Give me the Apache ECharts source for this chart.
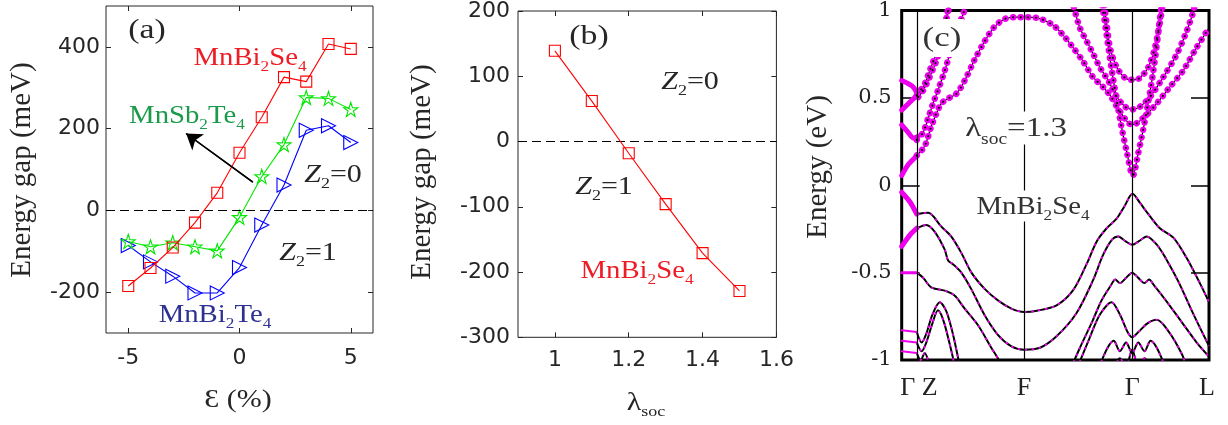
<!DOCTYPE html>
<html>
<head>
<meta charset="utf-8">
<script src="https://cdn.jsdelivr.net/npm/echarts@6/dist/echarts.min.js"></script>
<style>
  html, body { margin: 0; padding: 0; background: #fff; }
  #chart { width: 1228px; height: 425px; }
</style>
</head>
<body>
<div id="chart"></div>
<script>
// ---------- (a) gap versus strain ----------
const strain   = [-5, -4, -3, -2, -1, 0, 1, 2, 3, 4, 5];
const gapBiSe  = [-185, -141, -91, -30, 43, 141, 228, 326, 315, 407, 395];
const gapSbTe  = [-76, -89, -79, -89, -99, -17, 83, 161, 276, 274, 247];
const gapBiTe  = [-86, -126, -161, -202, -202, -140, -36, 62, 196, 207, 166];
const strainTicks = [-5, 0, 5];
const gapTicksA   = [-200, 0, 200, 400];
const arrowFrom = [0.6, 69];
const arrowTo   = [-2.4, 188];

// ---------- (b) gap versus SOC strength ----------
const lambdaSoc = [1.0, 1.1, 1.2, 1.3, 1.4, 1.5];
const gapSoc    = [139, 62, -18, -96, -171, -229];
const socTicks  = [1, 1.2, 1.4, 1.6];

// ---------- (c) band structure, path Γ-Z-F-Γ-L (k along path, E in eV) ----------
const kTicks = [0, 0.049, 0.398, 0.750, 1.0];
const kNames = ['Γ', 'Z', 'F', 'Γ', 'L'];

// conduction bands (projected weight drawn as dots)
const cbArch = [[0.049,0.17],[0.075,0.224],[0.096,0.336],[0.113,0.411],[0.129,0.468],[0.151,0.496],[0.178,0.524],[0.205,0.599],[0.238,0.721],[0.270,0.824],[0.303,0.909],[0.336,0.952],[0.37,0.962],[0.40,0.962],[0.44,0.958],[0.491,0.918],[0.524,0.862],[0.557,0.789],[0.590,0.71],[0.622,0.62],[0.655,0.563],[0.68,0.51],[0.70,0.45],[0.733,0.366],[0.750,0.345],[0.785,0.383],[0.830,0.468],[0.873,0.563],[0.915,0.654],[0.960,0.789],[1.0,0.90]];
const cbUp1  = [[0.049,0.26],[0.069,0.30],[0.086,0.383],[0.102,0.468],[0.118,0.543],[0.140,0.655],[0.156,0.749],[0.178,0.88],[0.199,0.975],[0.21,1.03]];
const cbUp2  = [[0.049,0.514],[0.075,0.58],[0.091,0.655],[0.107,0.73],[0.123,0.824],[0.140,0.918],[0.152,1.0],[0.156,1.03]];
const cbUp3  = [[0.054,0.505],[0.069,0.54],[0.086,0.599],[0.102,0.665],[0.113,0.712],[0.128,0.80],[0.140,0.90],[0.150,1.0],[0.153,1.03]];
const cbMid  = [[0.56,1.02],[0.564,0.993],[0.580,0.90],[0.602,0.824],[0.624,0.749],[0.645,0.674],[0.672,0.599],[0.700,0.505],[0.727,0.449],[0.750,0.434],[0.775,0.449],[0.808,0.505],[0.851,0.618],[0.895,0.749],[0.927,0.88],[0.949,0.993],[0.952,1.02]];
const cbV    = [[0.66,1.03],[0.662,0.993],[0.678,0.787],[0.700,0.674],[0.727,0.614],[0.750,0.603],[0.775,0.614],[0.802,0.674],[0.824,0.787],[0.846,0.993],[0.848,1.03]];
const cbCone = [[0.652,1.03],[0.656,0.993],[0.684,0.655],[0.711,0.374],[0.733,0.186],[0.752,0.055],[0.770,0.186],[0.792,0.374],[0.819,0.655],[0.838,0.918],[0.843,0.993],[0.846,1.03]];

// strongly weighted pieces between Γ and Z
const gzA = [[0,0.599],[0.038,0.561],[0.054,0.505]];
const gzB = [[0,0.43],[0.033,0.486],[0.049,0.514]];
const gzC = [[0,0.345],[0.022,0.30],[0.038,0.27],[0.054,0.28]];
const gzD = [[0,0.055],[0.022,0.12],[0.049,0.167]];
const gzE = [[0,-0.04],[0.027,-0.096],[0.049,-0.165]];
const gzF = [[0,-0.35],[0.027,-0.284],[0.049,-0.246]];
const gzG = [[0,-0.50],[0.049,-0.50]];
const gzH = [[0,-0.83],[0.049,-0.84]];
const gzI = [[0,-0.89],[0.049,-0.90]];
const gzJ = [[0,-0.95],[0.049,-0.96]];

// valence bands
const vbA  = [[0.049,-0.165],[0.086,-0.158],[0.129,-0.237],[0.161,-0.293],[0.194,-0.387],[0.227,-0.50],[0.270,-0.593],[0.313,-0.659],[0.357,-0.706],[0.398,-0.725],[0.44,-0.718],[0.504,-0.687],[0.558,-0.60],[0.602,-0.45],[0.635,-0.32],[0.667,-0.246],[0.700,-0.19],[0.725,-0.12],[0.751,-0.049],[0.775,-0.10],[0.797,-0.152],[0.840,-0.246],[0.884,-0.30],[0.927,-0.415],[0.971,-0.563],[1.0,-0.669]];
const vbB  = [[0.049,-0.246],[0.080,-0.227],[0.107,-0.265],[0.140,-0.368],[0.151,-0.43],[0.167,-0.452],[0.194,-0.50],[0.226,-0.593],[0.270,-0.744],[0.313,-0.856],[0.357,-0.922],[0.398,-0.941],[0.45,-0.93],[0.503,-0.866],[0.568,-0.734],[0.622,-0.546],[0.655,-0.40],[0.685,-0.31],[0.705,-0.293],[0.728,-0.32],[0.750,-0.34],[0.772,-0.32],[0.797,-0.293],[0.830,-0.34],[0.86,-0.42],[0.90,-0.55],[0.95,-0.74],[1.0,-0.92]];
const vbC  = [[0.049,-0.50],[0.070,-0.53],[0.096,-0.584],[0.140,-0.603],[0.172,-0.631],[0.205,-0.706],[0.248,-0.80],[0.292,-0.931],[0.313,-0.99],[0.33,-1.05]];
const vbC2 = [[0.55,-1.05],[0.58,-0.93],[0.62,-0.78],[0.65,-0.66],[0.68,-0.575],[0.695,-0.54],[0.71,-0.56],[0.73,-0.53],[0.75,-0.50],[0.77,-0.53],[0.79,-0.56],[0.805,-0.54],[0.82,-0.57],[0.86,-0.66],[0.91,-0.78],[0.96,-0.90],[1.0,-0.98]];
const vbD  = [[0.57,-1.05],[0.61,-0.88],[0.645,-0.74],[0.683,-0.669],[0.71,-0.74],[0.735,-0.84],[0.75,-0.87],[0.77,-0.84],[0.80,-0.79],[0.83,-0.77],[0.87,-0.84],[0.91,-0.96],[0.93,-1.05]];
const vbE  = [[0.64,-1.05],[0.67,-0.93],[0.69,-0.89],[0.71,-0.95],[0.73,-0.90],[0.75,-0.96],[0.77,-0.90],[0.79,-0.95],[0.81,-0.89],[0.83,-0.93],[0.86,-1.05]];
const vbF  = [[0.69,-1.05],[0.71,-0.99],[0.73,-1.04],[0.75,-0.94],[0.77,-1.04],[0.79,-0.99],[0.81,-1.05]];
const vbZ1 = [[0.049,-0.84],[0.065,-0.90],[0.08,-0.85],[0.10,-0.74],[0.124,-0.67],[0.145,-0.72],[0.165,-0.84],[0.185,-1.0],[0.19,-1.05]];
const vbZ2 = [[0.049,-0.90],[0.065,-0.95],[0.08,-0.90],[0.10,-0.79],[0.118,-0.716],[0.135,-0.77],[0.155,-0.90],[0.175,-1.05]];
const vbZ3 = [[0.049,-0.96],[0.062,-1.0],[0.075,-0.96],[0.09,-1.02],[0.1,-1.05]];

// ---------- styling ----------
const SANS  = "'DejaVu Sans', sans-serif";
const SERIF = "'Liberation Serif', 'DejaVu Serif', serif";
const WIDE_SERIF = "'DejaVu Serif', serif";
const AX  = '#262626';
const MAG = '#ee00ee';
const RED = '#ff0000', GREEN = '#00e600', BLUE = '#0000ff';

const STAR = 'path://M12,1 L14.6,8.9 L23,8.9 L16.2,13.8 L18.8,21.8 L12,16.9 L5.2,21.8 L7.8,13.8 L1,8.9 L9.4,8.9 Z';
const TRI_RIGHT = 'path://M0,0 L13,7 L0,14 Z';

const pairs = (xs, ys) => xs.map((x, i) => [x, ys[i]]);

function richSet(color, size) {
  const sub = Math.round(size * 0.6);
  return {
    m: { fill: color, fontFamily: SERIF, fontSize: size, lineHeight: size + 2, verticalAlign: 'top' },
    i: { fill: color, fontFamily: SERIF, fontSize: size, fontStyle: 'italic', lineHeight: size + 2, verticalAlign: 'top' },
    s: { fill: color, fontFamily: SERIF, fontSize: sub, lineHeight: sub, padding: [Math.round(size * 0.58), 0, 0, 0], verticalAlign: 'top' }
  };
}
function label(x, y, text, color, size, sx, extraStyle) {
  return {
    type: 'text', x: x, y: y, z: 100, scaleX: sx || 1.2, silent: true,
    style: Object.assign({
      text: text, rich: richSet(color, size), fill: color,
      fontFamily: SERIF, fontSize: size, align: 'center', verticalAlign: 'middle'
    }, extraStyle || {})
  };
}
function vlabel(x, y, text, size) {
  return {
    type: 'text', x: x, y: y, z: 100, rotation: Math.PI / 2, silent: true,
    style: { text: text, fill: AX, fontFamily: SERIF, fontSize: size, align: 'center', verticalAlign: 'middle' }
  };
}

// plain box axes for panels (a) and (b)
function boxX(grid, min, max, ticks, pos, showLabel, margin) {
  return {
    type: 'value', gridIndex: grid, min: min, max: max, position: pos,
    axisLine: { show: false, onZero: false },
    axisTick: { show: true, inside: true, length: 5, customValues: ticks, lineStyle: { color: AX, width: 1 } },
    axisLabel: { show: showLabel, customValues: ticks, fontFamily: SANS, fontSize: 22, color: AX, margin: margin },
    splitLine: { show: false }
  };
}
function boxY(grid, min, max, ticks, pos, showLabel, margin, interval) {
  const ax = {
    type: 'value', gridIndex: grid, min: min, max: max, position: pos,
    axisLine: { show: false, onZero: false },
    axisTick: { show: true, inside: true, length: 5, lineStyle: { color: AX, width: 1 } },
    axisLabel: { show: showLabel, fontFamily: SANS, fontSize: 22, color: AX, margin: margin },
    splitLine: { show: false }
  };
  if (ticks) { ax.axisTick.customValues = ticks; ax.axisLabel.customValues = ticks; }
  if (interval) ax.interval = interval;
  return ax;
}

const zeroLine = {
  silent: true, symbol: ['none', 'none'], label: { show: false },
  lineStyle: { color: '#000', type: [9, 5], width: 1.2 },
  data: [{ yAxis: 0 }]
};

// band-structure layers
const bandBase = { type: 'line', xAxisIndex: 4, yAxisIndex: 4, symbol: 'none', smooth: 0.3, silent: true };
function conduction(data) {
  return [
    Object.assign({}, bandBase, { data: data, z: 3, lineStyle: { color: '#000', width: 1.2 } }),
    Object.assign({}, bandBase, { data: data, z: 4, lineStyle: { color: MAG, width: 6.5, type: [0.1, 7.5], cap: 'round' } }),
    Object.assign({}, bandBase, { data: data, z: 5, lineStyle: { color: '#000', width: 2, type: [0.1, 7.5], cap: 'round' } })
  ];
}
function valence(data) {
  return [
    Object.assign({}, bandBase, { data: data, z: 3, lineStyle: { color: '#000', width: 2 } }),
    Object.assign({}, bandBase, { data: data, z: 4, lineStyle: { color: MAG, width: 1.8, type: [2.5, 4.5] } })
  ];
}
function heavy(data, w) {
  return [Object.assign({}, bandBase, { data: data, z: 4, lineStyle: { color: MAG, width: w, cap: 'round' } })];
}

const bandSeries = [].concat(
  conduction(cbArch), conduction(cbUp1), conduction(cbUp2), conduction(cbUp3),
  conduction(cbMid), conduction(cbV), conduction(cbCone),
  valence(vbA), valence(vbB), valence(vbC), valence(vbC2), valence(vbD),
  valence(vbE), valence(vbF), valence(vbZ1), valence(vbZ2), valence(vbZ3),
  heavy(gzA, 5), heavy(gzB, 5), heavy(gzC, 5), heavy(gzD, 5), heavy(gzE, 5), heavy(gzF, 5),
  heavy(gzG, 3), heavy(gzH, 2), heavy(gzI, 2), heavy(gzJ, 2)
);
// high-symmetry verticals
bandSeries[0].markLine = {
  silent: true, symbol: ['none', 'none'], label: { show: false },
  lineStyle: { color: '#000', type: 'solid', width: 1.2 },
  data: kTicks.slice(1, 4).map(k => ({ xAxis: k }))
};

const kRich = {
  p0: { fontFamily: SERIF, fontSize: 26, color: '#222', padding: [0, 0, 0, 12] },
  p1: { fontFamily: SERIF, fontSize: 26, color: '#222', padding: [0, 0, 0, 26] },
  p2: { fontFamily: SERIF, fontSize: 26, color: '#222' },
  p3: { fontFamily: SERIF, fontSize: 26, color: '#222' },
  p4: { fontFamily: SERIF, fontSize: 26, color: '#222', padding: [0, 4, 0, 0] }
};

const option = {
  animation: false,
  backgroundColor: '#fff',
  grid: [
    { left: 106, top: 6, width: 267, height: 327, show: true, borderColor: AX, borderWidth: 1, backgroundColor: 'transparent' },
    { left: 518, top: 10.6, width: 258.4, height: 326.7, show: true, borderColor: AX, borderWidth: 1, backgroundColor: 'transparent' },
    { left: 901.7, top: 5, width: 307.3, height: 355, show: true, borderColor: '#000', borderWidth: 3, backgroundColor: 'transparent' }
  ],
  xAxis: [
    boxX(0, -6, 6, strainTicks, 'bottom', true, 14),
    boxX(0, -6, 6, strainTicks, 'top', false, 8),
    boxX(1, 0.9, 1.6, socTicks, 'bottom', true, 12),
    boxX(1, 0.9, 1.6, socTicks, 'top', false, 8),
    {
      type: 'value', gridIndex: 2, min: 0, max: 1, position: 'bottom',
      axisLine: { show: false, onZero: false }, axisTick: { show: false }, splitLine: { show: false },
      axisLabel: {
        customValues: kTicks, showMinLabel: true, showMaxLabel: true, margin: 15,
        fontFamily: SERIF, fontSize: 26, color: '#222', rich: kRich,
        formatter: function (v) {
          let i = 0;
          kTicks.forEach((k, j) => { if (Math.abs(k - v) < 1e-6) i = j; });
          return '{p' + i + '|' + kNames[i] + '}';
        }
      }
    }
  ],
  yAxis: [
    boxY(0, -300, 500, gapTicksA, 'left', true, 6),
    boxY(0, -300, 500, gapTicksA, 'right', false, 8),
    boxY(1, -300, 200, null, 'left', true, 8, 100),
    boxY(1, -300, 200, null, 'right', false, 8, 100),
    {
      type: 'value', gridIndex: 2, min: -1, max: 1, interval: 0.5, position: 'left',
      axisLine: { show: false, onZero: false }, splitLine: { show: false },
      axisTick: { show: true, inside: true, length: 18, lineStyle: { color: '#000', width: 1.5 } },
      axisLabel: { fontFamily: WIDE_SERIF, fontSize: 21, color: '#222', margin: 10 }
    },
    {
      type: 'value', gridIndex: 2, min: -1, max: 1, interval: 0.5, position: 'right',
      axisLine: { show: false, onZero: false }, splitLine: { show: false },
      axisTick: { show: true, inside: true, length: 18, lineStyle: { color: '#000', width: 1.5 } },
      axisLabel: { show: false }
    }
  ],
  series: [
    {
      type: 'line', xAxisIndex: 0, yAxisIndex: 0, data: pairs(strain, gapBiTe), silent: true, z: 3,
      symbol: TRI_RIGHT, symbolSize: [14, 14],
      itemStyle: { color: 'rgba(0,0,0,0)', borderColor: BLUE, borderWidth: 1.1 },
      lineStyle: { color: BLUE, width: 1.1 },
      markLine: zeroLine
    },
    {
      type: 'line', xAxisIndex: 0, yAxisIndex: 0, data: pairs(strain, gapSbTe), silent: true, z: 4,
      symbol: STAR, symbolSize: 14,
      itemStyle: { color: 'rgba(0,0,0,0)', borderColor: GREEN, borderWidth: 1.1 },
      lineStyle: { color: GREEN, width: 1.1 }
    },
    {
      type: 'line', xAxisIndex: 0, yAxisIndex: 0, data: pairs(strain, gapBiSe), silent: true, z: 5,
      symbol: 'rect', symbolSize: 11,
      itemStyle: { color: 'rgba(0,0,0,0)', borderColor: RED, borderWidth: 1.1 },
      lineStyle: { color: RED, width: 1.1 }
    },
    // pointer arrow in (a): its own black series so the head inherits black
    {
      type: 'line', xAxisIndex: 0, yAxisIndex: 0, data: [arrowFrom, arrowTo], silent: true, z: 6,
      symbol: 'none', color: '#000',
      itemStyle: { color: '#000' },
      lineStyle: { color: '#000', width: 1.4 },
      markLine: {
        silent: true, symbol: ['none', 'arrow'], symbolSize: 15, label: { show: false },
        itemStyle: { color: '#000' },
        lineStyle: { color: '#000', type: 'solid', width: 1.4 },
        data: [[{ coord: arrowFrom }, { coord: arrowTo }]]
      }
    },
    {
      type: 'line', xAxisIndex: 2, yAxisIndex: 2, data: pairs(lambdaSoc, gapSoc), silent: true, z: 5,
      symbol: 'rect', symbolSize: 11,
      itemStyle: { color: 'rgba(0,0,0,0)', borderColor: RED, borderWidth: 1.1 },
      lineStyle: { color: RED, width: 1.1 },
      markLine: zeroLine
    }
  ].concat(bandSeries),
  graphic: { elements: [
    // (a)
    label(147, 32, '{m|(a)}', AX, 27, 1.25),
    label(250, 59, '{m|MnBi}{s|2}{m|Se}{s|4}', '#ee1c24', 25, 1.15),
    label(187, 117, '{m|MnSb}{s|2}{m|Te}{s|4}', '#1a9a4a', 25, 1.15),
    label(333, 176, '{i|Z}{s|2}{m|=0}', AX, 25, 1.2),
    label(308, 254, '{i|Z}{s|2}{m|=1}', AX, 25, 1.2),
    label(215, 316, '{m|MnBi}{s|2}{m|Te}{s|4}', '#2e3192', 25, 1.15),
    label(238, 401, '{m|Ɛ (%)}', AX, 25, 1.2),
    vlabel(22.5, 170, 'Energy gap (meV)', 29),
    // (b)
    label(589, 38, '{m|(b)}', AX, 27, 1.25),
    label(690, 83, '{i|Z}{s|2}{m|=0}', AX, 25, 1.2),
    label(604, 188, '{i|Z}{s|2}{m|=1}', AX, 25, 1.2),
    label(637, 272, '{m|MnBi}{s|2}{m|Se}{s|4}', '#ee1c24', 25, 1.15),
    label(646, 404, '{m|λ}{s|soc}', AX, 25, 1.2),
    vlabel(422, 172, 'Energy gap (meV)', 29),
    // (c)
    label(942, 38, '{m|(c)}', '#333', 28, 1.25, { backgroundColor: '#fff', padding: [6, 2, 2, 2] }),
    label(1016, 128, '{m|λ}{s|soc}{m|=1.3}', '#333', 27, 1.22, { backgroundColor: '#fff', padding: [4, 2, 0, 2] }),
    label(1033, 206, '{m|MnBi}{s|2}{m|Se}{s|4}', '#333', 25, 1.15, { backgroundColor: '#fff', padding: [4, 2, 0, 2] }),
    vlabel(818, 167, 'Energy (eV)', 29)
  ] }
};

const chart = echarts.init(document.getElementById('chart'), null, { renderer: 'canvas' });
chart.setOption(option);
</script>
</body>
</html>
